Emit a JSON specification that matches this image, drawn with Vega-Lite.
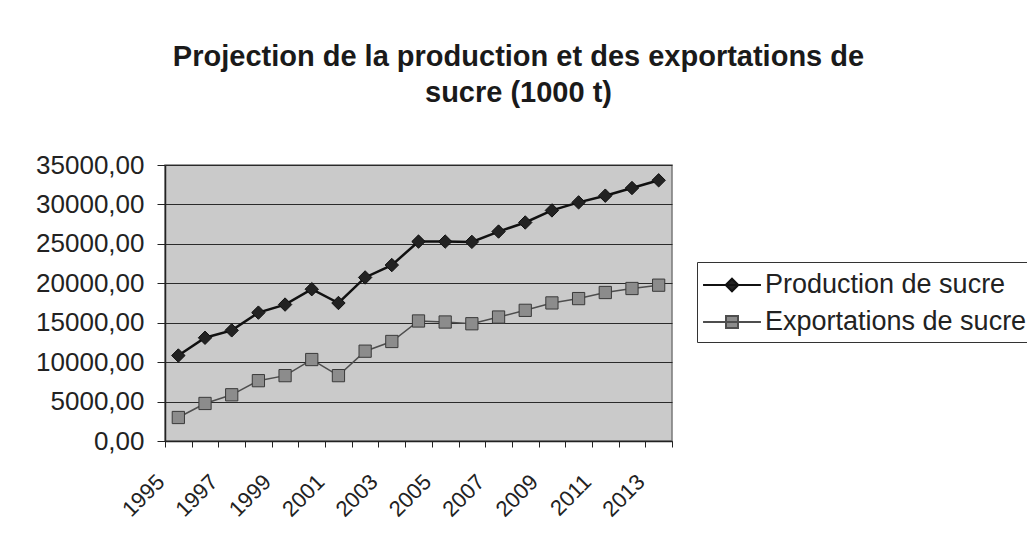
{
  "$schema": "https://vega.github.io/schema/vega-lite/v6.json",
  "autosize": "none",
  "width": 507,
  "height": 276,
  "padding": {"left": 165, "top": 165, "right": 355, "bottom": 110},
  "background": "white",
  "config": {
    "font": "Liberation Sans",
    "view": {"fill": "#cacaca", "stroke": "#7a7a7a", "strokeWidth": 1.5}
  },
  "title": {
    "text": ["Projection de la production et des exportations de", "sucre (1000 t)"],
    "fontSize": 29,
    "fontWeight": "bold",
    "font": "Liberation Sans",
    "color": "#1a1a1a",
    "anchor": "middle",
    "dx": 100,
    "offset": 44,
    "lineHeight": 36
  },
  "data": {
    "values": [
      {"year": "1995", "series": "Production de sucre", "value": 10840},
      {"year": "1996", "series": "Production de sucre", "value": 13090},
      {"year": "1997", "series": "Production de sucre", "value": 14030},
      {"year": "1998", "series": "Production de sucre", "value": 16280},
      {"year": "1999", "series": "Production de sucre", "value": 17300},
      {"year": "2000", "series": "Production de sucre", "value": 19250},
      {"year": "2001", "series": "Production de sucre", "value": 17500},
      {"year": "2002", "series": "Production de sucre", "value": 20740},
      {"year": "2003", "series": "Production de sucre", "value": 22310},
      {"year": "2004", "series": "Production de sucre", "value": 25290},
      {"year": "2005", "series": "Production de sucre", "value": 25290},
      {"year": "2006", "series": "Production de sucre", "value": 25250},
      {"year": "2007", "series": "Production de sucre", "value": 26560},
      {"year": "2008", "series": "Production de sucre", "value": 27710},
      {"year": "2009", "series": "Production de sucre", "value": 29240},
      {"year": "2010", "series": "Production de sucre", "value": 30260},
      {"year": "2011", "series": "Production de sucre", "value": 31110},
      {"year": "2012", "series": "Production de sucre", "value": 32080},
      {"year": "2013", "series": "Production de sucre", "value": 33060},
      {"year": "1995", "series": "Exportations de sucre", "value": 2980},
      {"year": "1996", "series": "Exportations de sucre", "value": 4760},
      {"year": "1997", "series": "Exportations de sucre", "value": 5860},
      {"year": "1998", "series": "Exportations de sucre", "value": 7650},
      {"year": "1999", "series": "Exportations de sucre", "value": 8290},
      {"year": "2000", "series": "Exportations de sucre", "value": 10330},
      {"year": "2001", "series": "Exportations de sucre", "value": 8290},
      {"year": "2002", "series": "Exportations de sucre", "value": 11390},
      {"year": "2003", "series": "Exportations de sucre", "value": 12620},
      {"year": "2004", "series": "Exportations de sucre", "value": 15220},
      {"year": "2005", "series": "Exportations de sucre", "value": 15090},
      {"year": "2006", "series": "Exportations de sucre", "value": 14870},
      {"year": "2007", "series": "Exportations de sucre", "value": 15720},
      {"year": "2008", "series": "Exportations de sucre", "value": 16570},
      {"year": "2009", "series": "Exportations de sucre", "value": 17510},
      {"year": "2010", "series": "Exportations de sucre", "value": 18060},
      {"year": "2011", "series": "Exportations de sucre", "value": 18830},
      {"year": "2012", "series": "Exportations de sucre", "value": 19340},
      {"year": "2013", "series": "Exportations de sucre", "value": 19760}
    ]
  },
  "encoding": {
    "x": {
      "field": "year",
      "type": "ordinal",
      "scale": {"paddingInner": 0, "paddingOuter": 0},
      "axis": {
        "title": null,
        "labelAngle": -45,
        "labelAlign": "right",
        "labelBaseline": "middle",
        "labelFontSize": 22,
        "labelColor": "#222",
        "labelFont": "Liberation Sans",
        "labelExpr": "toNumber(datum.value) % 2 == 1 ? datum.value : ''",
        "labelOverlap": false,
        "labelOffset": -18,
        "labelPadding": 31,
        "tickBand": "extent",
        "tickSize": 6,
        "tickColor": "#222",
        "domainColor": "#222",
        "domainWidth": 1.5,
        "grid": false
      }
    },
    "y": {
      "field": "value",
      "type": "quantitative",
      "scale": {"domain": [0, 35000], "nice": false},
      "axis": {
        "title": null,
        "values": [0, 5000, 10000, 15000, 20000, 25000, 30000, 35000],
        "labelExpr": "replace(format(datum.value, '.2f'), '.', ',')",
        "labelFontSize": 26,
        "labelColor": "#222",
        "labelFont": "Liberation Sans",
        "labelPadding": 13,
        "tickSize": 8,
        "tickColor": "#222",
        "domainColor": "#222",
        "domainWidth": 1.5,
        "grid": true,
        "gridColor": "#2a2a2a",
        "gridWidth": 1
      }
    }
  },
  "layer": [
    {
      "mark": {"type": "line"},
      "encoding": {
        "color": {
          "field": "series",
          "type": "nominal",
          "scale": {"domain": ["Production de sucre", "Exportations de sucre"], "range": ["#111111", "#4e4e4e"]},
          "legend": {
            "title": null,
            "orient": "none",
            "legendX": 532,
            "legendY": 97,
            "strokeColor": "#333",
            "padding": 7,
            "fillColor": "white",
            "labelFontSize": 27,
            "labelFont": "Liberation Sans",
            "labelColor": "#222",
            "labelOffset": 17,
            "symbolOffset": 12,
            "symbolSize": 900,
            "symbolStrokeWidth": 2,
            "rowPadding": 8,
            "labelLimit": 400,
            "encode": {
              "symbols": {
                "update": {
                  "shape": {"signal": "datum.value === 'Production de sucre' ? 'M-1.93,0H1.93M0,-0.42L0.42,0L0,0.42L-0.42,0Z' : 'M-1.93,0H1.93M-0.4,-0.4H0.4V0.4H-0.4Z'"},
                  "fill": {"signal": "datum.value === 'Production de sucre' ? '#222222' : '#8c8c8c'"},
                  "stroke": {"signal": "datum.value === 'Production de sucre' ? '#111111' : '#4e4e4e'"},
                  "opacity": {"value": 1}
                }
              }
            }
          }
        },
        "strokeWidth": {
          "condition": {"test": "datum.series === 'Production de sucre'", "value": 2.5},
          "value": 1.5
        }
      }
    },
    {
      "transform": [{"filter": "datum.series === 'Production de sucre'"}],
      "mark": {"type": "point", "shape": "diamond", "filled": true, "opacity": 1, "fill": "#222222", "stroke": "#111111", "strokeWidth": 1, "size": 180}
    },
    {
      "transform": [{"filter": "datum.series === 'Exportations de sucre'"}],
      "mark": {"type": "point", "shape": "square", "filled": true, "opacity": 1, "fill": "#8c8c8c", "stroke": "#3a3a3a", "strokeWidth": 1, "size": 150}
    }
  ]
}
